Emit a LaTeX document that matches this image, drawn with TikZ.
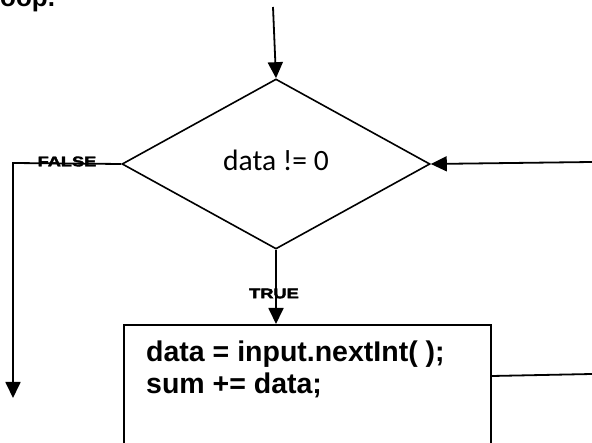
\documentclass[tikz,border=0pt]{standalone}
\usepackage{fontspec}
\usepackage{graphicx}
\setmainfont{Liberation Sans}
\newfontfamily\calfont{Carlito}
\newfontfamily\blackfont[BoldFeatures={FakeBold=2.5}]{Liberation Sans}
\usetikzlibrary{shapes.geometric,arrows.meta}
\begin{document}
\begin{tikzpicture}[x=1pt,y=-1pt,
  conn/.style={line width=1.8pt},
  arr/.style={conn, -{Triangle[length=16pt,width=15pt]}},
  lbl/.style={font=\blackfont\bfseries\fontsize{14}{14}\selectfont, inner sep=0pt},
  decision/.style={draw, line width=1.6pt, shape=diamond, aspect=1.8, minimum width=308pt, minimum height=170pt, inner sep=0pt, font=\calfont\fontsize{29.5}{29.5}\selectfont, text depth=8pt},
  process/.style={draw, line width=1.8pt, minimum width=367pt, minimum height=160pt, inner sep=0pt, anchor=north west},
  code/.style={anchor=north west, inner sep=0pt, align=left, font=\bfseries\fontsize{28.5}{32}\selectfont}]
\useasboundingbox (0,0) rectangle (592,443);
\clip (0,0) rectangle (592,443);

\node[anchor=base west, inner sep=0pt, font=\bfseries\fontsize{26}{26}\selectfont] (title) at (0,7) {oop.};

\node[decision] (dec) at (276,164) {data != 0};
\node[process] (box) at (123,324) {};
\node[code] (codetext) at (146,341) {data = input.nextInt( );\\ sum += data;};

\coordinate (topin) at (273,7);
\coordinate (rin) at (592,162);
\coordinate (rout) at (592,374);
\coordinate (fcorner) at (13,163);
\coordinate (fend) at (13,398);
\coordinate (boxout) at ([yshift=-52pt]box.north east);

\draw[arr] (topin) -- (dec.north);
\draw[arr] (rin) -- (dec.east);
\draw[conn] (boxout) -- (rout);
\draw[arr] (dec.west) -- (fcorner) -- (fend);
\draw[arr] (dec.south) -- (dec.south |- box.north);

\node[lbl] (falselbl) at (67,161.5) {\scalebox{1.3}[1]{FALSE}};
\node[lbl] (truelbl) at (274,293.5) {\scalebox{1.3}[1]{TRUE}};
\end{tikzpicture}
\end{document}
